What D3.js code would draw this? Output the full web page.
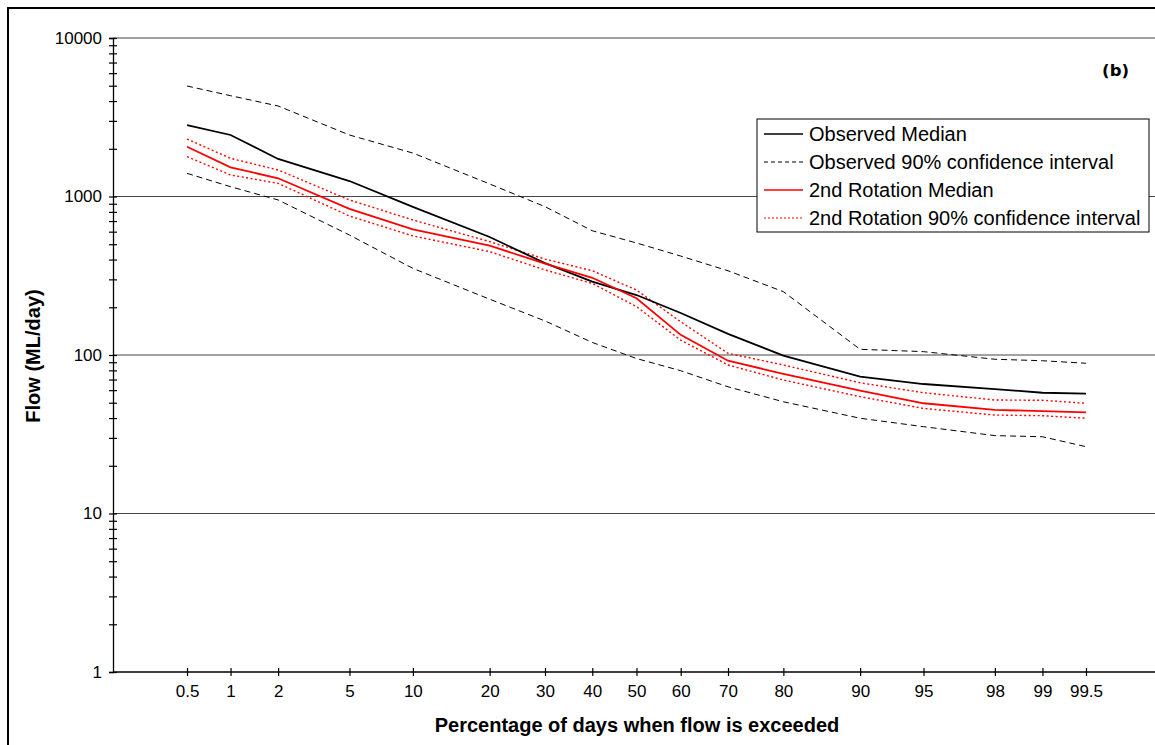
<!DOCTYPE html>
<html>
<head>
<meta charset="utf-8">
<script src="https://cdn.jsdelivr.net/npm/d3@7"></script>
<style>
  body { margin: 0; background: #fff; }
  svg { display: block; font-family: Arial, "Liberation Sans", sans-serif; }
</style>
</head>
<body>
<div class="chart"></div>
<script>
// flow duration curves, probability x axis + log y axis

var percents = [0.5, 1, 2, 5, 10, 20, 30, 40, 50, 60, 70, 80, 90, 95, 98, 99, 99.5];
var tickLabels = ["0.5", "1", "2", "5", "10", "20", "30", "40", "50", "60", "70", "80", "90", "95", "98", "99", "99.5"];

var obsMedian = [2825, 2444, 1725, 1252, 860, 555, 380, 290, 239, 184, 136, 99, 73, 65.6, 61, 57.8, 57];
var obsUpper  = [4980, 4325, 3724, 2443, 1880, 1200, 863, 608, 509, 421, 340, 251, 108.6, 105, 94, 92, 88.7];
var obsLower  = [1400, 1153, 951, 571, 352, 225, 164, 120, 95, 79.6, 63, 50.7, 39.9, 35.3, 31, 30.5, 26.4];
var rotMedian = [2061, 1528, 1303, 835, 621, 490, 377, 307, 228, 134, 92, 76, 59.5, 49.6, 45, 44.3, 43.5];
var rotUpper  = [2305, 1741, 1469, 951, 711, 519, 403, 340, 257, 162, 102.5, 86.5, 66.8, 57.8, 52, 51.8, 49.6];
var rotLower  = [1783, 1367, 1211, 753, 564, 449, 344, 283, 202, 124, 86.5, 69.5, 54.6, 46, 41.8, 41.4, 39.9];

var seriesNames = ["Observed Median", "Observed 90% confidence interval",
                   "2nd Rotation Median", "2nd Rotation 90% confidence interval"];

var width = 1155, height = 745;
var plot = {left: 113, right: 1160, top: 38, bottom: 672};

// inverse normal cdf (Acklam)
function probit(p) {
  var a = [-3.969683028665376e+01, 2.209460984245205e+02, -2.759285104469687e+02,
           1.383577518672690e+02, -3.066479806614716e+01, 2.506628277459239e+00];
  var b = [-5.447609879822406e+01, 1.615858368580409e+02, -1.556989798598866e+02,
           6.680131188771972e+01, -1.328068155288572e+01];
  var c = [-7.784894002430293e-03, -3.223964580411365e-01, -2.400758277161838e+00,
           -2.549732539343734e+00, 4.374664141464968e+00, 2.938163982698783e+00];
  var d = [7.784695709041462e-03, 3.224671290700398e-01, 2.445134137142996e+00,
           3.754408661907416e+00];
  var pl = 0.02425, q, r;
  if (p < pl) {
    q = Math.sqrt(-2 * Math.log(p));
    return (((((c[0]*q+c[1])*q+c[2])*q+c[3])*q+c[4])*q+c[5]) /
           ((((d[0]*q+d[1])*q+d[2])*q+d[3])*q+1);
  } else if (p <= 1 - pl) {
    q = p - 0.5; r = q * q;
    return (((((a[0]*r+a[1])*r+a[2])*r+a[3])*r+a[4])*r+a[5])*q /
           (((((b[0]*r+b[1])*r+b[2])*r+b[3])*r+b[4])*r+1);
  } else {
    q = Math.sqrt(-2 * Math.log(1 - p));
    return -(((((c[0]*q+c[1])*q+c[2])*q+c[3])*q+c[4])*q+c[5]) /
            ((((d[0]*q+d[1])*q+d[2])*q+d[3])*q+1);
  }
}

/* scales */
var x = d3.scaleLinear().domain([-3, 3]).range([plot.left, plot.right]);
var y = d3.scaleLog().domain([1, 10000]).range([plot.bottom, plot.top]);
var px = function(p) { return x(probit(p / 100)); };

var svg = d3.select(".chart").append("svg")
    .attr("width", width)
    .attr("height", height);

// outer chart border (only top/left visible)
svg.append("rect")
    .attr("x", 8).attr("y", 8)
    .attr("width", 1160).attr("height", 760)
    .attr("fill", "none")
    .attr("stroke", "#000")
    .attr("stroke-width", 2);

// gridlines
svg.append("g")
  .selectAll("line")
  .data([10, 100, 1000, 10000])
  .join("line")
    .attr("x1", plot.left).attr("x2", 1155)
    .attr("y1", function(d) { return y(d); })
    .attr("y2", function(d) { return y(d); })
    .attr("stroke", "#444")
    .attr("stroke-width", 1);

// y axis
var yTicks = [];
[1, 10, 100, 1000].forEach(function(dec) {
  for (var i = 1; i < 10; i++) yTicks.push(dec * i);
});
yTicks.push(10000);

var yAxis = svg.append("g")
    .attr("transform", "translate(" + plot.left + ",0)")
    .call(d3.axisLeft(y)
        .tickValues(yTicks)
        .tickSize(4)
        .tickFormat(function(d) { return [1, 10, 100, 1000, 10000].indexOf(d) >= 0 ? d : ""; }));
yAxis.select(".domain").attr("stroke", "#000").attr("stroke-width", 1.3);
yAxis.selectAll(".tick line").attr("x1", 4).attr("x2", -4).attr("stroke", "#000").attr("stroke-width", 1.2);
yAxis.selectAll(".tick text")
    .attr("x", -11)
    .attr("font-size", 17)
    .attr("font-family", "Arial, 'Liberation Sans', sans-serif")
    .attr("fill", "#000");

// x axis
var xAxis = svg.append("g")
    .attr("transform", "translate(0," + plot.bottom + ")")
    .call(d3.axisBottom(x)
        .tickValues(percents.map(function(p) { return probit(p / 100); }))
        .tickSize(4)
        .tickFormat(function(d, i) { return tickLabels[i]; }));
xAxis.select(".domain").attr("d", "M" + plot.left + ",0H1155").attr("stroke", "#000").attr("stroke-width", 1.3);
xAxis.selectAll(".tick line").attr("y1", -4).attr("y2", 4).attr("stroke", "#000").attr("stroke-width", 1.2);
xAxis.selectAll(".tick text")
    .attr("y", 13)
    .attr("font-size", 17)
    .attr("font-family", "Arial, 'Liberation Sans', sans-serif")
    .attr("fill", "#000");

// axis titles
svg.append("text")
    .attr("x", 637).attr("y", 732)
    .attr("text-anchor", "middle")
    .attr("font-size", 20).attr("font-weight", "bold")
    .text("Percentage of days when flow is exceeded");

svg.append("text")
    .attr("transform", "translate(40,356) rotate(-90)")
    .attr("text-anchor", "middle")
    .attr("font-size", 20).attr("font-weight", "bold")
    .text("Flow (ML/day)");

svg.append("text")
    .attr("x", 1129).attr("y", 76)
    .attr("text-anchor", "end")
    .attr("font-family", "'DejaVu Sans', Verdana, sans-serif")
    .attr("font-size", 16.5).attr("font-weight", "bold")
    .text("(b)");

/* lines */
var styles = [
  {data: obsUpper,  color: "#000", w: 1,   dash: "6,4"},
  {data: obsLower,  color: "#000", w: 1,   dash: "6,4"},
  {data: rotUpper,  color: "#f00", w: 1.4, dash: "2,2.5"},
  {data: rotLower,  color: "#f00", w: 1.4, dash: "2,2.5"},
  {data: obsMedian, color: "#000", w: 1.8, dash: null},
  {data: rotMedian, color: "#f00", w: 1.8, dash: null}
];

var line = d3.line()
    .x(function(d, i) { return px(percents[i]); })
    .y(function(d) { return y(d); });

styles.forEach(function(s) {
  svg.append("path")
      .datum(s.data)
      .attr("fill", "none")
      .attr("stroke", s.color)
      .attr("stroke-width", s.w)
      .attr("stroke-dasharray", s.dash)
      .attr("d", line);
});

/* legend */
var legend = svg.append("g").attr("transform", "translate(757,119)");
legend.append("rect")
    .attr("width", 392).attr("height", 113)
    .attr("fill", "#fff").attr("stroke", "#000").attr("stroke-width", 1);

var legendStyles = [
  {color: "#000", w: 1.5, dash: null},
  {color: "#000", w: 1, dash: "4,3"},
  {color: "#f00", w: 1.5, dash: null},
  {color: "#f00", w: 1.2, dash: "2,2"}
];

var rows = legend.selectAll("g.row")
  .data(seriesNames)
  .join("g")
    .attr("class", "row")
    .attr("transform", function(d, i) { return "translate(0," + (15 + i * 28) + ")"; });

rows.append("line")
    .attr("x1", 7).attr("x2", 46)
    .attr("stroke", function(d, i) { return legendStyles[i].color; })
    .attr("stroke-width", function(d, i) { return legendStyles[i].w; })
    .attr("stroke-dasharray", function(d, i) { return legendStyles[i].dash; });

rows.append("text")
    .attr("x", 52).attr("dy", "0.35em")
    .attr("font-size", 20)
    .text(function(d) { return d; });
</script>
</body>
</html>
